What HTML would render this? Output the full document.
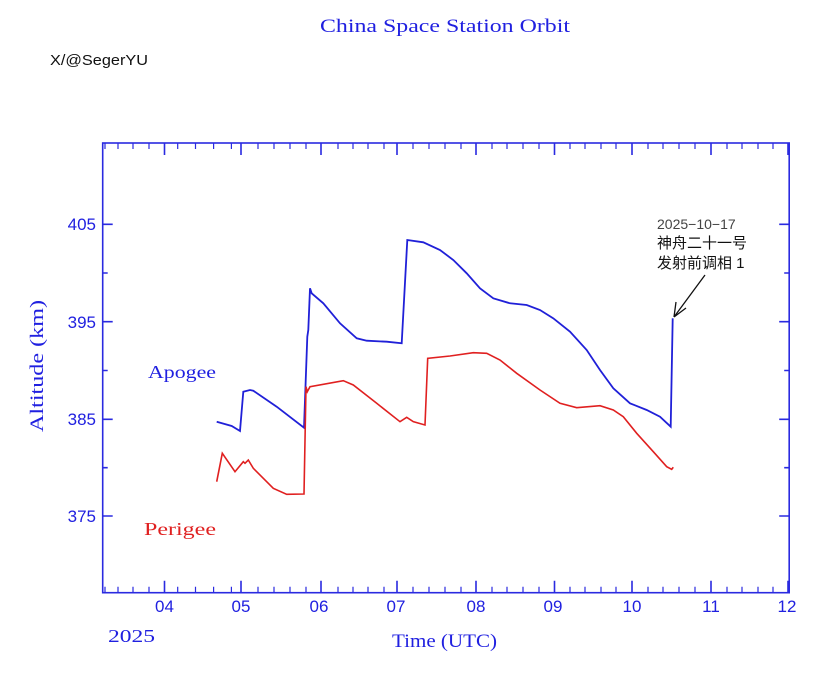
<!DOCTYPE html>
<html><head><meta charset="utf-8"><style>
body{margin:0;background:#fff;}
svg{display:block}
</style></head><body>
<svg width="829" height="684" xmlns="http://www.w3.org/2000/svg">
<rect width="829" height="684" fill="#fff"/>
<text x="320" y="32" textLength="250" lengthAdjust="spacingAndGlyphs" font-family="Liberation Serif, serif" font-size="19" fill="#2020e0">China Space Station Orbit</text>
<text x="50" y="65" textLength="98" lengthAdjust="spacingAndGlyphs" font-family="Liberation Sans, sans-serif" font-size="15" fill="#111">X/@SegerYU</text>
<g stroke="#2a2ae0" stroke-width="1.6" fill="none">
<rect x="102.7" y="143" width="686.5" height="449.7"/>
<path d="M102.7 224.3h10M102.7 321.7h10M102.7 419.3h10M102.7 516h10M789.2 224.3h-10M789.2 321.7h-10M789.2 419.3h-10M789.2 516h-10"/>
<path d="M102.7 273h5M102.7 370.5h5M102.7 467.7h5M789.2 273h-5M789.2 370.5h-5M789.2 467.7h-5"/>
<path d="M164.5 592.7v-12M241 592.7v-12M321 592.7v-12M397 592.7v-12M476 592.7v-12M554.5 592.7v-12M632 592.7v-12M711 592.7v-12M788 592.7v-12M164.5 143v12M241 143v12M321 143v12M397 143v12M476 143v12M554.5 143v12M632 143v12M711 143v12M788 143v12"/>
</g>
<g stroke="#2a2ae0" stroke-width="1.2" fill="none">
<path d="M105 592.7v-6M118 592.7v-6M133 592.7v-6M149 592.7v-6M177.7 592.7v-6M195.5 592.7v-6M213.6 592.7v-6M231.4 592.7v-6M258 592.7v-6M274 592.7v-6M290 592.7v-6M306 592.7v-6M338 592.7v-6M353 592.7v-6M368 592.7v-6M384 592.7v-6M413 592.7v-6M429 592.7v-6M445 592.7v-6M461 592.7v-6M492 592.7v-6M507 592.7v-6M523 592.7v-6M539 592.7v-6M570 592.7v-6M585 592.7v-6M601 592.7v-6M616 592.7v-6M648 592.7v-6M663 592.7v-6M679 592.7v-6M695 592.7v-6M727 592.7v-6M742 592.7v-6M758 592.7v-6M773 592.7v-6"/>
<path d="M105 143v6M118 143v6M133 143v6M149 143v6M177.7 143v6M195.5 143v6M213.6 143v6M231.4 143v6M258 143v6M274 143v6M290 143v6M306 143v6M338 143v6M353 143v6M368 143v6M384 143v6M413 143v6M429 143v6M445 143v6M461 143v6M492 143v6M507 143v6M523 143v6M539 143v6M570 143v6M585 143v6M601 143v6M616 143v6M648 143v6M663 143v6M679 143v6M695 143v6M727 143v6M742 143v6M758 143v6M773 143v6"/>
</g>
<g font-family="Liberation Sans, sans-serif" font-size="17" fill="#2020e0" text-anchor="end">
<text x="96" y="230">405</text><text x="96" y="328">395</text><text x="96" y="425">385</text><text x="96" y="522">375</text>
</g>
<g font-family="Liberation Sans, sans-serif" font-size="17" fill="#2020e0" text-anchor="middle">
<text x="164.5" y="612">04</text><text x="241" y="612">05</text><text x="319" y="612">06</text><text x="396" y="612">07</text><text x="476" y="612">08</text><text x="553" y="612">09</text><text x="632" y="612">10</text><text x="711" y="612">11</text><text x="787" y="612">12</text>
</g>
<text x="108" y="642" textLength="47" lengthAdjust="spacingAndGlyphs" font-family="Liberation Serif, serif" font-size="18" fill="#2020e0">2025</text>
<text x="392" y="647" textLength="105" lengthAdjust="spacingAndGlyphs" font-family="Liberation Serif, serif" font-size="19" fill="#2020e0">Time (UTC)</text>
<text transform="translate(43,432) rotate(-90)" textLength="132" lengthAdjust="spacingAndGlyphs" font-family="Liberation Serif, serif" font-size="19" fill="#2020e0">Altitude (km)</text>
<text x="148" y="378" textLength="68" lengthAdjust="spacingAndGlyphs" font-family="Liberation Serif, serif" font-size="18" fill="#2020e0">Apogee</text>
<text x="144" y="535" textLength="72" lengthAdjust="spacingAndGlyphs" font-family="Liberation Serif, serif" font-size="18" fill="#e02020">Perigee</text>
<polyline fill="none" stroke="#2020d8" stroke-width="1.8" points="216.7,421.7 231.7,426 240,431 243.3,391.7 250,390 253.3,390.7 276.7,406.7 304,427.7 307.3,336.7 308.3,330 310,288.3 311.7,293.3 323.3,303.3 340,323.3 356.7,338.3 366.7,340.7 386.7,341.7 401.7,343.3 407.3,240 423.3,242.3 440,250 453.3,260 466.7,273.3 480,288.3 493.3,298.3 510,303.3 526.7,305 540,310 553.3,318.3 570,331.7 586.7,350 600,370 613.3,388.3 630,403.3 646.7,410 660,416.7 670.7,426.7 672.7,318.3"/>
<polyline fill="none" stroke="#e02020" stroke-width="1.6" points="216.7,481.7 222.3,453.3 235,471.7 243.3,461.7 245,463.3 248.3,460 253.3,468.3 273.3,488.3 286.7,494.3 304,494 306,386.7 307.3,391.7 310,386.7 343.3,380.7 353.3,385 376.7,403.3 400,421.7 406.7,417.3 413.3,421.7 425,425 427.7,358.3 450,356 473.3,352.7 486.7,353.3 500,360 516.7,373.3 540,390 560,403.3 576.7,407.7 600,405.7 613.3,410 623.3,416.7 636.7,433.3 653.3,451.7 666.7,466.7 671.7,469.3 673.3,467.3"/>
<g stroke="#111" stroke-width="1.3" fill="none">
<path d="M705 275 L674 317 M674 317 L676 302 M674 317 L686 308"/>
</g>
<text x="657" y="229" font-family="Liberation Sans, sans-serif" font-size="14" fill="#444">2025−10−17</text>
<text x="657" y="248" font-family="Liberation Sans, 'Noto Sans CJK SC', sans-serif" font-size="15" fill="#111">神舟二十一号</text>
<text x="657" y="268" font-family="Liberation Sans, 'Noto Sans CJK SC', sans-serif" font-size="15" fill="#111">发射前调相 1</text>
</svg>
</body></html>
